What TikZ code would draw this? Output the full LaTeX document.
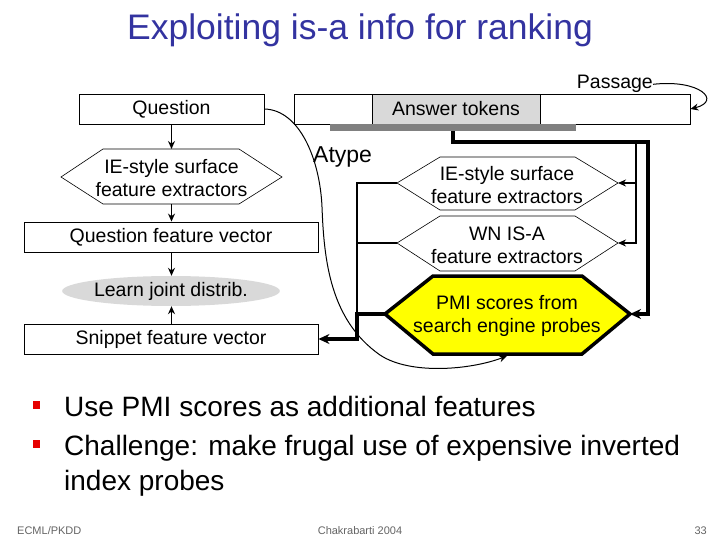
\documentclass[tikz,border=0pt]{standalone}
\usepackage{fontspec}
\setmainfont{Liberation Sans}
\usetikzlibrary{arrows.meta,shapes.geometric}
\definecolor{titleblue}{RGB}{51,51,160}
\definecolor{lgray}{RGB}{217,217,217}
\definecolor{dgray}{RGB}{128,128,128}
\definecolor{pmiyellow}{RGB}{255,255,0}
\definecolor{bulletred}{RGB}{230,0,0}
\definecolor{footgray}{RGB}{100,100,100}
\newcommand\diafont{\fontsize{19.5}{23}\selectfont}
\tikzset{
  box/.style={draw, line width=0.9pt, fill=white, inner sep=0pt, font=\diafont},
  hexline/.style={draw, line width=0.6pt, line join=miter},
  lbl/.style={font=\diafont, align=center, inner sep=0pt},
  conn/.style={line width=1.8pt},
  thickconn/.style={line width=4pt},
  tip/.style={-{Stealth[length=8pt,width=7pt]}},
  bigtip/.style={-{Stealth[length=11pt,width=10pt]}},
  bullettext/.style={font=\fontsize{28}{34}\selectfont, anchor=base west, inner sep=0pt},
  bulletsq/.style={fill=bulletred, minimum width=7pt, minimum height=8pt, inner sep=0pt},
  foot/.style={font=\fontsize{11}{13}\selectfont, text=footgray, inner sep=0pt},
}
\begin{document}
\begin{tikzpicture}[x=1pt,y=-1pt]
\useasboundingbox (0,0) rectangle (720,540);

% title
\node[font=\fontsize{35.5}{40}\selectfont, text=titleblue, anchor=base, inner sep=0pt] (title) at (360,40) {Exploiting is-a info for ranking};

% left column
\node[box, minimum width=185pt, minimum height=30pt] (q) at (171.5,109) {Question};
\draw[hexline] (61,177) -- (103,149) -- (239,149) -- (282,177) -- (239,204) -- (103,204) -- cycle;
\coordinate (lhexN) at (171.5,149);
\coordinate (lhexS) at (171.5,204);
\node[lbl] (lhex) at (171.5,178) {IE-style surface\\feature extractors};
\node[box, minimum width=294pt, minimum height=30pt] (qfv) at (171,237) {Question feature vector};
\node[ellipse, fill=lgray, minimum width=210pt, minimum height=30pt, inner sep=0pt, font=\diafont] (learn) at (171,291) {Learn joint distrib.};
\node[box, minimum width=294pt, minimum height=30pt] (snip) at (171,339) {Snippet feature vector};

\draw[line width=1.2pt, tip] (q.south -| lhexN) -- (lhexN);
\draw[line width=1.2pt, tip] (lhexS) -- (lhexS |- qfv.north);
\draw[line width=1.2pt, tip] (qfv.south -| lhexN) -- (learn.north -| lhexN);
\draw[line width=1.2pt, tip] (snip.north -| lhexN) -- (learn.south -| lhexN);

% passage
\node[box, minimum width=396pt, minimum height=30pt] (pas) at (492,109) {};
\node[box, fill=lgray, minimum width=168pt, minimum height=30pt] (ans) at (456,109) {Answer tokens};
\node[fill=dgray, minimum width=246pt, minimum height=7pt, inner sep=0pt] (bar) at (453,127.5) {};
\node[lbl, anchor=base east] (passlbl) at (653,89) {Passage};
\draw[line width=1pt, tip] (passlbl.east) .. controls (700,79) and (722,101) .. (pas.east);

% right hexagons
\draw[hexline] (397,183) -- (440,157) -- (575,157) -- (618,183) -- (575,210) -- (440,210) -- cycle;
\coordinate (rh1W) at (397,183);
\coordinate (rh1E) at (618,183);
\node[lbl] (rh1) at (507,185) {IE-style surface\\feature extractors};

\draw[hexline] (397,243) -- (440,216) -- (575,216) -- (618,243) -- (575,271) -- (440,271) -- cycle;
\coordinate (rh2W) at (397,243);
\coordinate (rh2E) at (618,243);
\node[lbl] (rh2) at (507,245) {WN IS-A\\feature extractors};

\draw[draw=black, fill=pmiyellow, line width=3.5pt, line join=miter] (385,314) -- (433,276) -- (582,276) -- (630,314) -- (582,354) -- (433,354) -- cycle;
\coordinate (pmiW) at (385,314);
\coordinate (pmiE) at (630,314);
\coordinate (pmiS) at (507,356);
\node[lbl] (pmi) at (507,316) {PMI scores from\\search engine probes};

% connectors on the right
\coordinate (barS) at (453,131);
\coordinate (jr) at (636,142);
\coordinate (jl) at (357,314);
\draw[thickconn, bigtip] (barS) -- (453,142) -- (648,142) -- (648,314) -- (pmiE);
\draw[conn, tip] (jr) |- (rh2E);
\draw[conn, tip] (jr |- rh1E) -- (rh1E);
\draw[conn] (rh1W) -- (rh1W -| jl) -- (jl);
\draw[conn] (rh2W) -- (rh2W -| jl);
\draw[thickconn, bigtip] (pmiW) -- (jl) -- (jl |- snip.east) -- (snip.east);

% Atype curve
\node[font=\fontsize{23}{27}\selectfont, anchor=west, inner sep=0pt] (atype) at (313,157) {Atype};
\draw[line width=1pt, tip] (q.east) .. controls (300,110) and (320,160) .. (322,207) .. controls (324,260) and (330,320) .. (380,355) .. controls (410,375) and (470,370) .. (pmiS);

% bullets
\node[bulletsq] (b1) at (36.5,405) {};
\node[bullettext] (t1) at (64,416) {Use PMI scores as additional features};
\node[bulletsq] (b2) at (36.5,444) {};
\node[bullettext] (t2) at (64,455) {Challenge: make frugal use of expensive inverted};
\node[bullettext] (t3) at (64,490) {index probes};

% footer
\node[foot, anchor=west] (f1) at (17,531) {ECML/PKDD};
\node[foot] (f2) at (360,531) {Chakrabarti 2004};
\node[foot, anchor=east] (f3) at (707,531) {33};
\end{tikzpicture}
\end{document}
